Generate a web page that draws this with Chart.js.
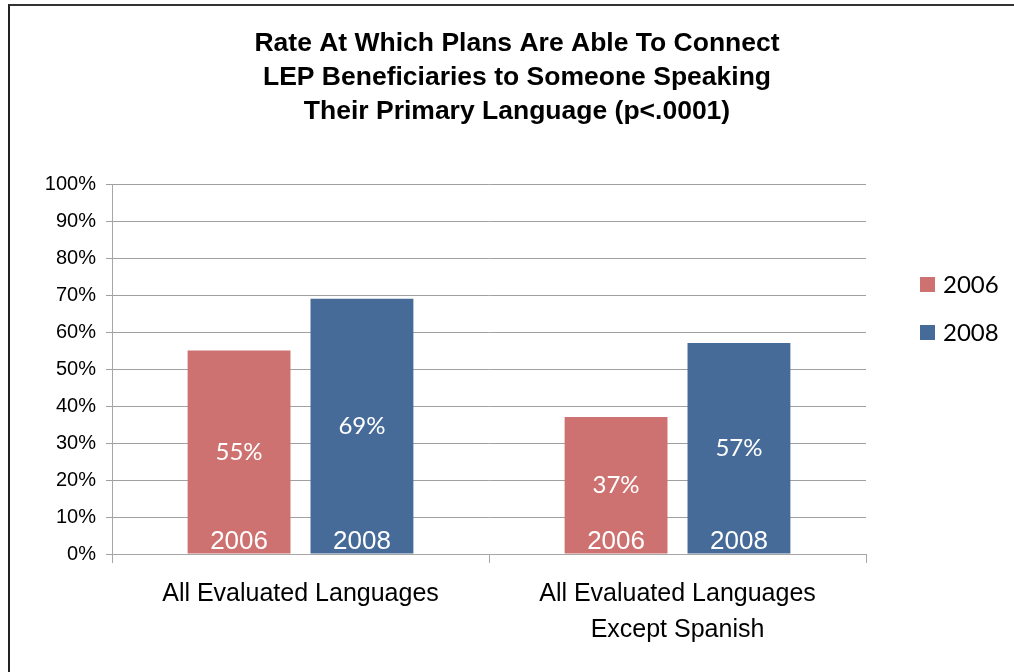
<!DOCTYPE html>
<html lang="en">
<head>
  <meta charset="UTF-8">
  <title>Rate At Which Plans Are Able To Connect LEP Beneficiaries</title>
  <script src="https://cdn.jsdelivr.net/npm/chart.js"></script>
  <style>
    html, body {
      margin: 0;
      padding: 0;
      background: white;
    }
    #frame {
      position: absolute;
      left: 8px;
      top: 4px;
      width: 1006px;
      height: 668px;
      border-left: 2px solid #222;
      border-top: 2px solid #333;
      box-sizing: border-box;
    }
    #wrap {
      position: absolute;
      left: 0;
      top: 0;
      width: 1014px;
      height: 672px;
    }
  </style>
</head>
<body>

<div id="frame"></div>
<div id="wrap">
  <canvas id="barChart" width="1014" height="672"></canvas>
</div>

<script>
  const categories = [
    "All Evaluated Languages",
    ["All Evaluated Languages", "Except Spanish"]
  ];
  const seriesNames = ["2006", "2008"];
  const values2006 = [55, 37];
  const values2008 = [69, 57];
  const colors = ["#cd7270", "#466b98"];
  const titleLines = [
    "Rate At Which Plans Are Able To Connect",
    "LEP Beneficiaries to Someone Speaking",
    "Their Primary Language (p<.0001)"
  ];

  // title drawn over the whole picture (not just the plot + padding)
  const titleBlock = {
    id: "titleBlock",
    afterDraw(chart) {
      const ctx = chart.ctx;
      ctx.save();
      ctx.fillStyle = "#000";
      ctx.textAlign = "center";
      ctx.textBaseline = "middle";
      ctx.font = "bold 26.5px 'Liberation Sans', Arial, sans-serif";
      titleLines.forEach((line, i) => {
        ctx.fillText(line, 517, 44 + i * 34);
      });
      ctx.restore();
    }
  };

  // value labels in the middle of each bar, year at the bottom
  const barLabels = {
    id: "barLabels",
    afterDatasetsDraw(chart) {
      const ctx = chart.ctx;
      ctx.save();
      ctx.fillStyle = "white";
      ctx.textAlign = "center";
      chart.data.datasets.forEach((ds, i) => {
        chart.getDatasetMeta(i).data.forEach((bar, j) => {
          ctx.font = "24px Lato, 'Open Sans', sans-serif";
          ctx.textBaseline = "middle";
          ctx.fillText(ds.data[j] + "%", bar.x, (bar.y + bar.base) / 2);
          ctx.font = "26px 'Liberation Sans', Arial, sans-serif";
          ctx.textBaseline = "alphabetic";
          ctx.fillText(ds.label, bar.x, bar.base - 5);
        });
      });
      ctx.restore();
    }
  };

  // legend to the right of the plot
  const sideLegend = {
    id: "sideLegend",
    afterDraw(chart) {
      const ctx = chart.ctx;
      const area = chart.chartArea;
      ctx.save();
      ctx.font = "24px Lato, 'Open Sans', sans-serif";
      ctx.textBaseline = "middle";
      ctx.textAlign = "left";
      chart.data.datasets.forEach((ds, i) => {
        const y = area.top + 101 + i * 48;
        ctx.fillStyle = ds.backgroundColor;
        ctx.fillRect(area.right + 54, y - 8, 15, 15);
        ctx.fillStyle = "#000";
        ctx.fillText(ds.label, area.right + 77, y);
      });
      ctx.restore();
    }
  };

  const ctx = document.getElementById("barChart").getContext("2d");
  const chart = new Chart(ctx, {
    type: "bar",
    data: {
      labels: categories,
      datasets: [
        { label: seriesNames[0], data: values2006, backgroundColor: colors[0] },
        { label: seriesNames[1], data: values2008, backgroundColor: colors[1] }
      ]
    },
    options: {
      responsive: false,
      animation: false,
      devicePixelRatio: 1,
      categoryPercentage: 0.652,
      barPercentage: 0.837,
      layout: {
        padding: { left: 30, right: 148, top: 184, bottom: 11 }
      },
      plugins: {
        legend: { display: false },
        tooltip: { enabled: false },
        title: { display: false }
      },
      scales: {
        x: {
          grid: {
            display: true,
            drawOnChartArea: false,
            offset: true,
            color: "#a6a6a6",
            tickLength: 9
          },
          border: { color: "#a6a6a6", width: 1 },
          ticks: {
            color: "#000",
            font: { family: "'Liberation Sans', Arial, sans-serif", size: 25, lineHeight: 1.44 },
            padding: 13,
            maxRotation: 0
          }
        },
        y: {
          min: 0,
          max: 100,
          afterFit: (s) => { s.width = 82; },
          ticks: {
            stepSize: 10,
            color: "#000",
            font: { family: "'Liberation Sans', Arial, sans-serif", size: 20 },
            padding: 10,
            callback: (v) => v + "%"
          },
          grid: {
            color: "#a0a0a0",
            tickLength: 6
          },
          border: { color: "#a6a6a6", width: 1 }
        }
      }
    },
    plugins: [barLabels, sideLegend, titleBlock]
  });
</script>

</body>
</html>
